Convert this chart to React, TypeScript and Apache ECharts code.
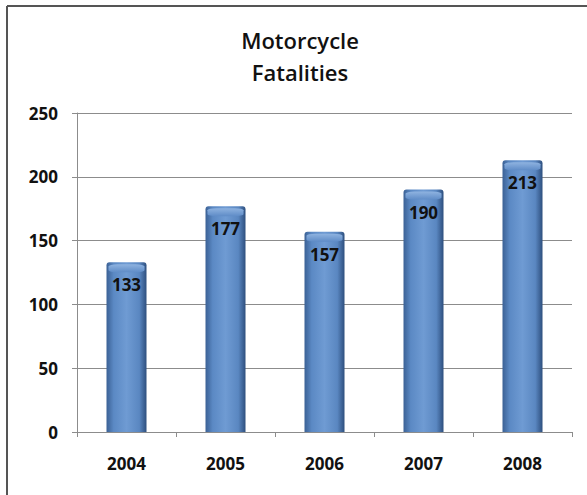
import React, { useEffect, useRef } from "react";
import * as echarts from "echarts";

const categories = ["2004", "2005", "2006", "2007", "2008"];
const fatalities = [133, 177, 157, 190, 213];
const titleLines = ["Motorcycle", "Fatalities"];

export default function App() {
  const ref = useRef<HTMLDivElement>(null);
  useEffect(() => {
    if (!ref.current) return;
    const chart = echarts.init(ref.current, null, { renderer: "svg" });
    const barGradient = new echarts.graphic.LinearGradient(0, 0, 1, 0, [
      { offset: 0, color: "#3b6195" },
      { offset: 0.18, color: "#5b89c4" },
      { offset: 0.5, color: "#6f9bd3" },
      { offset: 0.82, color: "#5a87c1" },
      { offset: 1, color: "#2e4f7e" },
    ]);
    const capGradient = new echarts.graphic.LinearGradient(0, 0, 0, 1, [
      { offset: 0, color: "#8fb3e0" },
      { offset: 1, color: "#5f8cc7" },
    ]);
    chart.setOption({
      animation: false,
      backgroundColor: "#ffffff",
      textStyle: { fontFamily: "Open Sans" },
      graphic: [
        { type: "line", shape: { x1: 7, y1: 6, x2: 587, y2: 6 }, style: { stroke: "#555", lineWidth: 2 } },
        { type: "line", shape: { x1: 7, y1: 6, x2: 7, y2: 495 }, style: { stroke: "#555", lineWidth: 2 } },
        {
          type: "text",
          x: 300,
          y: 56,
          style: {
            text: titleLines.join("\n"),
            textAlign: "center",
            textVerticalAlign: "middle",
            fontFamily: "Open Sans",
            fontSize: 22,
            fontWeight: 600,
            lineHeight: 32,
            fill: "#111",
          },
        },
      ],
      grid: { left: 77, right: 15, top: 113, bottom: 63 },
      xAxis: {
        type: "category",
        data: categories,
        axisLine: { lineStyle: { color: "#8c8c8c" } },
        axisTick: { show: true, length: 5, lineStyle: { color: "#8c8c8c" } },
        axisLabel: { color: "#111", fontSize: 17, fontWeight: "bold", margin: 23, fontFamily: "Open Sans" },
      },
      yAxis: {
        type: "value",
        min: 0,
        max: 250,
        interval: 50,
        axisLine: { show: true, lineStyle: { color: "#8c8c8c" } },
        axisTick: { show: true, length: 5, lineStyle: { color: "#8c8c8c" } },
        splitLine: { lineStyle: { color: "#8c8c8c" } },
        axisLabel: { color: "#111", fontSize: 17, fontWeight: "bold", margin: 19, fontFamily: "Open Sans" },
      },
      series: [
        {
          type: "bar",
          data: fatalities,
          barWidth: 40,
          z: 2,
          itemStyle: { color: barGradient, borderRadius: [3, 3, 0, 0] },
          label: {
            show: true,
            position: "insideTop",
            distance: 14,
            color: "#111",
            fontSize: 17,
            fontWeight: "bold",
            fontFamily: "Open Sans",
          },
        },
        {
          type: "pictorialBar",
          data: fatalities,
          symbol: "roundRect",
          symbolSize: [36, 8],
          symbolPosition: "end",
          symbolOffset: [0, 2],
          z: 3,
          silent: true,
          itemStyle: { color: capGradient },
        },
      ],
    });
    return () => chart.dispose();
  }, []);
  return <div ref={ref} style={{ position: "fixed", left: 0, top: 0, width: 587, height: 495 }} />;
}
